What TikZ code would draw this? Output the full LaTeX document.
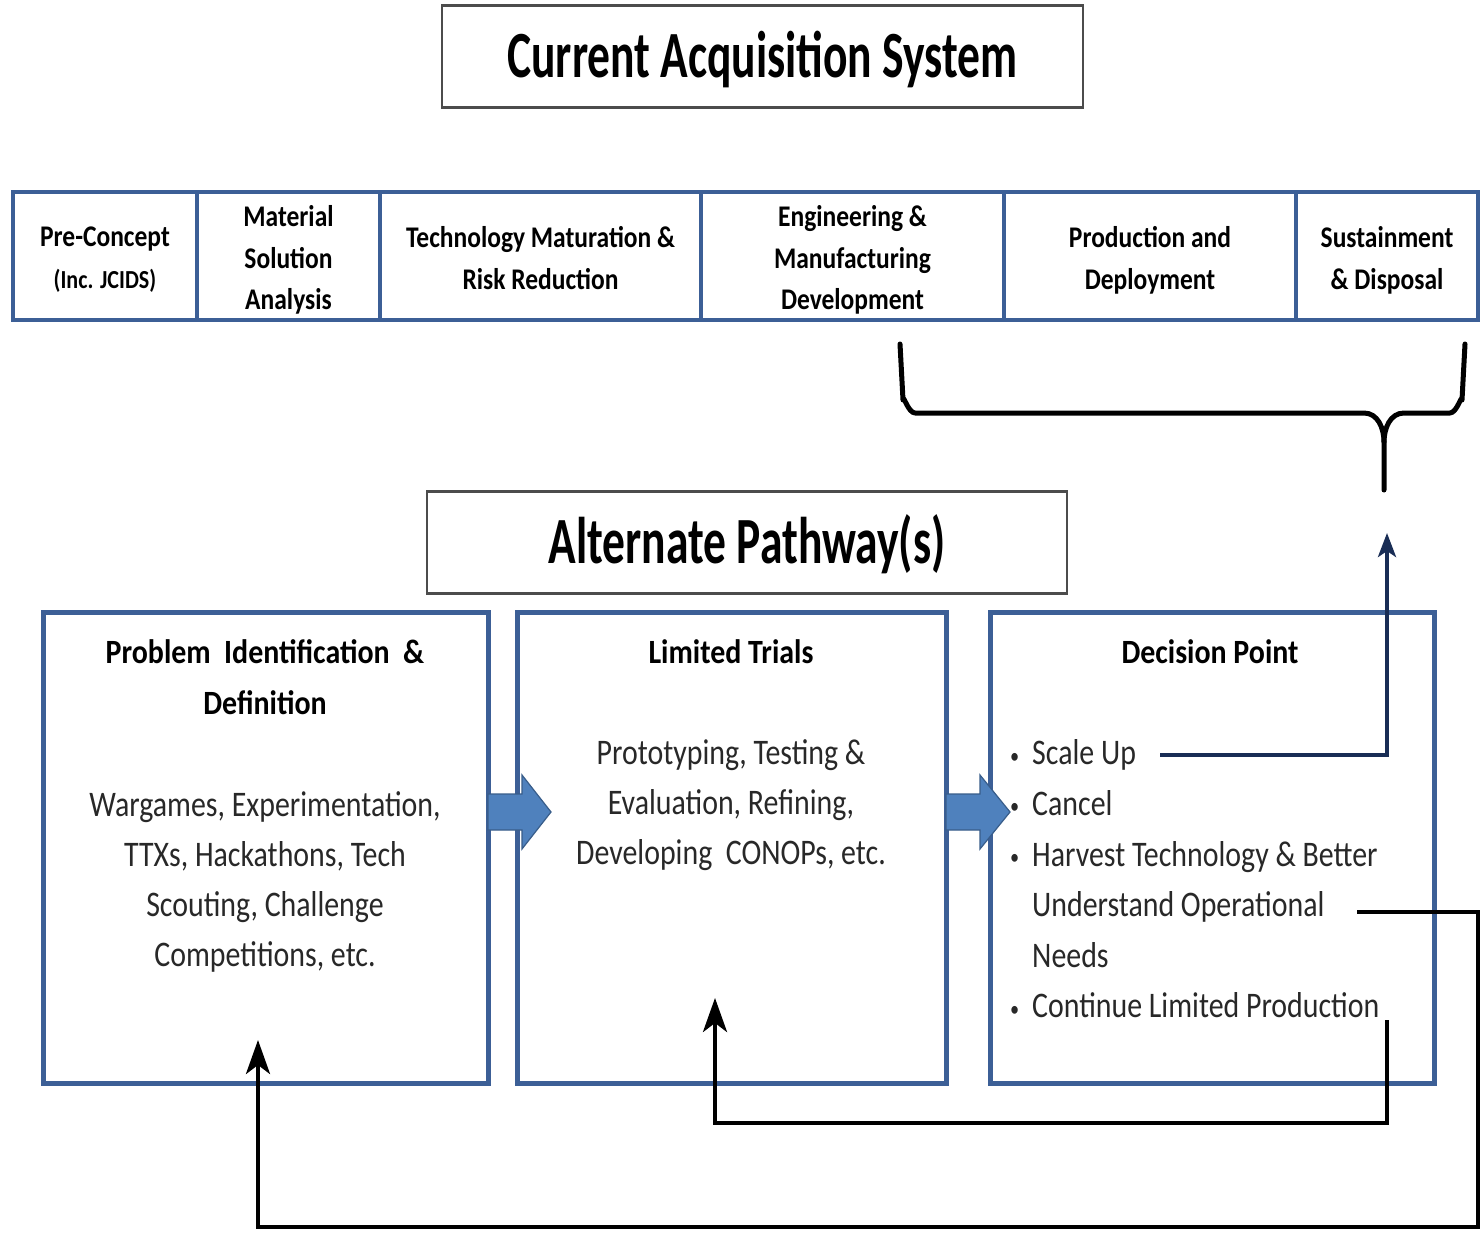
\documentclass[tikz,border=0pt]{standalone}
\usepackage{fontspec}
\setmainfont{Carlito}
\newfontfamily\ttlfont{Carlito}[FakeStretch=0.69]
\newfontfamily\cellfnt{Carlito}[FakeStretch=0.85]
\newfontfamily\headfnt{Carlito}[FakeStretch=0.88]
\newfontfamily\bodyfnt{Carlito}[FakeStretch=0.83]
\usetikzlibrary{arrows.meta}
\definecolor{frameblue}{RGB}{60,95,150}
\definecolor{arrowblue}{RGB}{79,129,189}
\definecolor{arrowedge}{RGB}{56,93,138}
\definecolor{navyline}{RGB}{25,45,85}
\definecolor{textgray}{RGB}{40,40,40}
\newcommand{\itemdot}{\llap{{\fontsize{22}{22}\selectfont\raisebox{1.5pt}{\textbullet}}\hspace{13pt}}}

\begin{document}
\begin{tikzpicture}[x=1pt,y=-1pt,
  titlebox/.style={draw=black!70, line width=2.5pt, inner sep=0pt, outer sep=0pt,
    minimum height=102pt, text height=42pt, text depth=0pt,
    font=\ttlfont\bfseries\fontsize{66}{79}\selectfont},
  phase/.style={draw=frameblue, line width=4.5pt, inner sep=0pt, outer sep=0pt,
    minimum height=128pt, align=center,
    font=\cellfnt\bfseries\fontsize{30}{41.5}\selectfont},
  phasetext/.style={inner sep=0pt, align=center,
    font=\cellfnt\bfseries\fontsize{30}{41.5}\selectfont,
    execute at begin node=\strut, execute at end node=\strut},
  stage/.style={draw=frameblue, line width=5pt, inner sep=0pt, outer sep=0pt,
    minimum height=471pt},
  stagehead/.style={inner sep=0pt, align=center,
    font=\headfnt\bfseries\fontsize{34}{51}\selectfont,
    execute at begin node=\strut, execute at end node=\strut},
  stagebody/.style={inner sep=0pt, align=center, text=textgray,
    font=\bodyfnt\fontsize{36}{50}\selectfont,
    execute at begin node=\strut, execute at end node=\strut},
  blockarrow/.style={fill=arrowblue, draw=arrowedge, line width=1.2pt, line join=miter},
  feedback/.style={line width=4pt, draw=black, -{Stealth[length=34pt,width=24pt,inset=9pt]}},
  scaleline/.style={line width=4pt, draw=navyline, -{Stealth[length=24pt,width=18pt,inset=6pt]}},
  bracket/.style={line width=5pt, draw=black, line cap=round, line join=round}
]
\useasboundingbox (0,0) rectangle (1481,1233);
\fill[white] (0,0) rectangle (1481,1233);

% headline boxes
\node[titlebox, minimum width=641pt] (cas) at (762.5,56.5) {Current Acquisition System};
\node[titlebox, minimum width=640pt] (alt) at (747,542.5) {Alternate Pathway(s)};

% acquisition phases: frames, then their labels
\node[phase, minimum width=184pt] (p1) at (105,256) {};
\node[phase, minimum width=183pt] (p2) at (288.5,256) {};
\node[phase, minimum width=321pt] (p3) at (540.5,256) {};
\node[phase, minimum width=303pt] (p4) at (852.5,256) {};
\node[phase, minimum width=292pt] (p5) at (1150,256) {};
\node[phase, minimum width=182pt] (p6) at (1387,256) {};

\node[phasetext] (p1t) at (105,264)
  {Pre-Concept\\{\fontsize{26}{41.5}\selectfont(Inc. JCIDS)}};
\node[phasetext] (p2t) at (288.5,264) {Material\\Solution\\Analysis};
\node[phasetext] (p3t) at (540.5,264) {Technology Maturation \&\\Risk Reduction};
\node[phasetext] (p4t) at (852.5,264) {Engineering \&\\Manufacturing\\Development};
\node[phasetext] (p5t) at (1150,264) {Production and\\Deployment};
\node[phasetext] (p6t) at (1387,264) {Sustainment\\\& Disposal};

% bracket under the later phases
\coordinate (brtip) at (1384,490);
\draw[bracket] (900,344) -- (903,400) to[out=90,in=180] (915,413) -- (1364,413)
  to[out=0,in=90] (1384,442) -- (brtip);
\draw[bracket] (1465,344) -- (1462,400) to[out=90,in=0] (1450,413) -- (1404,413)
  to[out=180,in=90] (1384,442);

% alternate pathway stages
\node[stage, minimum width=445pt] (s1) at (265.5,847.5) {};
\node[stage, minimum width=429pt] (s2) at (731.5,847.5) {};
\node[stage, minimum width=444pt] (s3) at (1212,847.5) {};

\node[stagehead] (s1h) at (265,684.3) {Problem\ \ Identification\ \ \&\\Definition};
\node[stagehead] (s2h) at (731,652.8) {Limited Trials};
\node[stagehead] (s3h) at (1210,652.8) {Decision Point};

\node[stagebody] (s1b) at (265,887) {Wargames, Experimentation,\\TTXs, Hackathons, Tech\\Scouting, Challenge\\Competitions, etc.};
\node[stagebody] (s2b) at (731,809.5) {Prototyping, Testing \&\\Evaluation, Refining,\\Developing\ \ CONOPs, etc.};
\node[stagebody, align=left, anchor=north west, font=\bodyfnt\fontsize{36}{50.6}\selectfont] (s3b) at (1032,739.6)
  {\itemdot Scale Up\\
   \itemdot Cancel\\
   \itemdot Harvest Technology \& Better\\
   Understand Operational\\
   Needs\\
   \itemdot Continue Limited Production};

% block arrows between stages
\path (s1.east) ++(0,-35.5) coordinate (a1);
\path (s2.east) ++(0,-35.5) coordinate (a2);
\draw[blockarrow] (a1) ++(0,-18) -- ++(34,0) -- ++(0,-19) -- ++(29,37) -- ++(-29,37)
  -- ++(0,-19) -- ++(-34,0) -- cycle;
\draw[blockarrow] (a2) ++(0,-18) -- ++(34,0) -- ++(0,-19) -- ++(30,37) -- ++(-30,37)
  -- ++(0,-19) -- ++(-34,0) -- cycle;

% decision outcomes
\coordinate (suStart) at (1160,755);
\coordinate (suEnd) at (1387,533);
\draw[scaleline] (suStart) -| (suEnd);

\coordinate (unStart) at (1357,912);
\coordinate (unC1) at (1478,912);
\coordinate (unC2) at (1478,1227);
\coordinate (unC3) at (258,1227);
\coordinate (unEnd) at (258,1040);
\draw[feedback] (unStart) -- (unC1) -- (unC2) -- (unC3) -- (unEnd);

\coordinate (clStart) at (1387,1020);
\coordinate (clC1) at (1387,1123);
\coordinate (clC2) at (715,1123);
\coordinate (clEnd) at (715,998);
\draw[feedback] (clStart) -- (clC1) -- (clC2) -- (clEnd);
\end{tikzpicture}
\end{document}
